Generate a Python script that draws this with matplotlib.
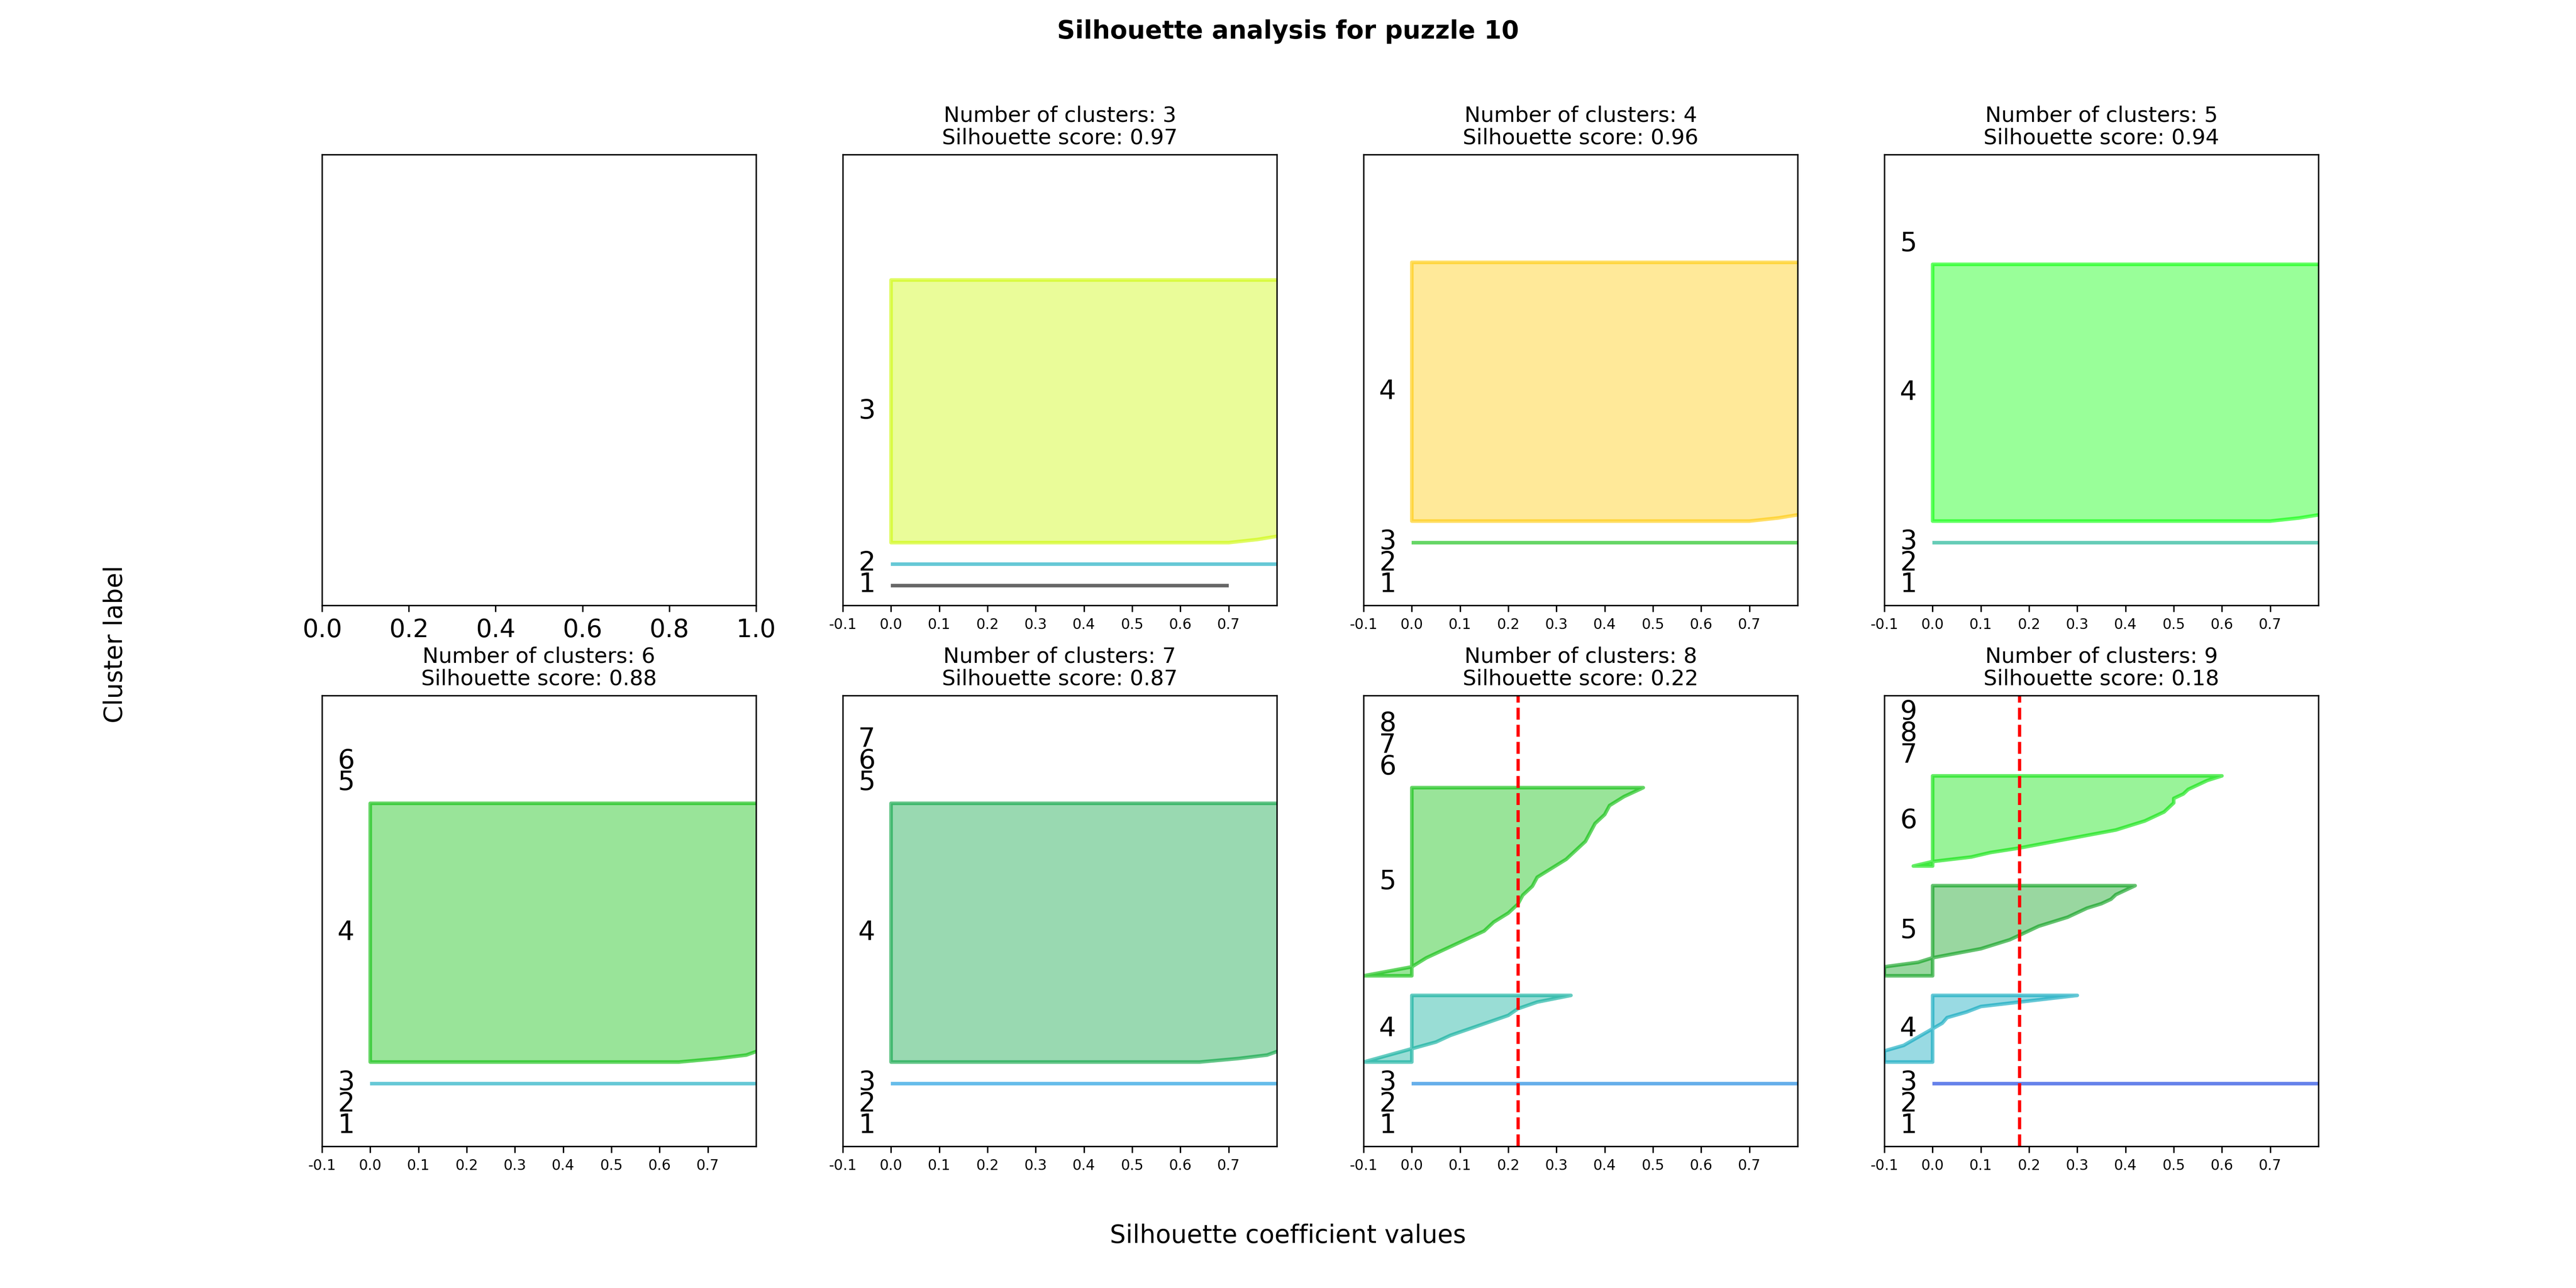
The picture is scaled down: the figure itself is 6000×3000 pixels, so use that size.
import numpy as np
import matplotlib
matplotlib.use("Agg")
import matplotlib.pyplot as plt
import matplotlib.cm as cm

n_clusters_list = [3, 4, 5, 6, 7, 8, 9]
scores = [0.97, 0.96, 0.94, 0.88, 0.87, 0.22, 0.18]

# sorted silhouette values per cluster (bottom to top), and cluster sizes
top_tail = [0.7, 0.76, 0.8, 0.9] + [1.0] * 80
big_k6 = [0.64, 0.72, 0.78, 0.8, 0.85] + [1.0] * 70

k8_c4 = [-0.1, -0.05, 0.0, 0.05, 0.08, 0.12, 0.16, 0.2, 0.22, 0.26, 0.33]
k8_c5 = [-0.1, 0.0, 0.03, 0.07, 0.11, 0.15, 0.17, 0.2, 0.22, 0.23, 0.25,
         0.26, 0.29, 0.32, 0.34, 0.36, 0.37, 0.38, 0.40, 0.41, 0.44, 0.48]
k9_c4 = [-0.1, -0.1, -0.1, -0.06, -0.04, -0.02, 0.0, 0.02, 0.03, 0.07, 0.1,
         0.2, 0.3]
k9_c5 = [-0.1, -0.1, -0.1, -0.03, 0.0, 0.05, 0.1, 0.13, 0.16, 0.18, 0.2,
         0.22, 0.25, 0.28, 0.3, 0.32, 0.35, 0.37, 0.38, 0.40, 0.42]
k9_c6 = [-0.04, 0.0, 0.08, 0.12, 0.18, 0.23, 0.28, 0.33, 0.38, 0.41, 0.44,
         0.46, 0.48, 0.49, 0.5, 0.5, 0.52, 0.53, 0.55, 0.57, 0.6]

panels = [
    ([1, 1, 134], [[0.7], [1.0], top_tail]),
    ([1, 1, 1, 132], [[0.0], [0.0], [1.0], top_tail]),
    ([1, 1, 1, 131, 1], [[0.0], [0.0], [1.0], top_tail, [0.0]]),
    ([1, 1, 1, 132, 1, 1], [[0.0], [0.0], [1.0], big_k6, [0.0], [0.0]]),
    ([1, 1, 1, 132, 1, 1, 1], [[0.0], [0.0], [1.0], big_k6, [0.0], [0.0], [0.0]]),
    ([1, 1, 1, 34, 96, 1, 1, 1],
     [[0.0], [0.0], [1.0], k8_c4, k8_c5, [0.0], [0.0], [0.0]]),
    ([1, 1, 1, 34, 46, 46, 1, 1, 1],
     [[0.0], [0.0], [1.0], k9_c4, k9_c5, k9_c6, [0.0], [0.0], [0.0]]),
]

fig, axes = plt.subplots(2, 4, figsize=(20, 10), dpi=300)
axes = axes.ravel()

axes[0].set_yticks([])
axes[0].tick_params(labelsize=14)

for ax, k, score, (sizes, vals) in zip(axes[1:], n_clusters_list, scores, panels):
    y_lower = 10
    for i in range(k):
        v = np.array(vals[i])
        y_upper = y_lower + sizes[i]
        if len(v) == 1:
            ys = np.array([y_lower])
        else:
            ys = np.linspace(y_lower, y_upper, len(v))
        color = cm.nipy_spectral(float(i) / k)
        ax.fill_betweenx(ys, 0, v, facecolor=color, alpha=0.4)
        ax.fill_betweenx(ys, 0, v, facecolor="none", edgecolor=color, alpha=0.6,
                         linewidth=2)
        ax.text(-0.05, y_lower + 0.5 * sizes[i], str(i + 1), fontsize=15,
                ha="center", va="center")
        y_lower = y_upper + 10
    ax.set_xlim(-0.1, 0.8)
    ax.set_ylim(0, 230)
    ax.set_xticks(np.arange(-0.1, 0.8, 0.1))
    ax.set_xticklabels(["-0.1", "0.0", "0.1", "0.2", "0.3", "0.4", "0.5", "0.6", "0.7"])
    ax.set_yticks([])
    ax.tick_params(labelsize=8)
    ax.set_title("Number of clusters: %d\nSilhouette score: %.2f" % (k, score),
                 fontsize=12, linespacing=1.1)
    if score < 0.5:
        ax.axvline(x=score, color="red", linestyle="--", linewidth=1.8)

fig.suptitle("Silhouette analysis for puzzle 10", fontsize=14, fontweight="bold", y=0.985)
fig.text(0.5, 0.035, "Silhouette coefficient values", ha="center", fontsize=14)
fig.text(0.04, 0.5, "Cluster label", va="center", rotation="vertical", fontsize=14)

fig.savefig("out.png")
